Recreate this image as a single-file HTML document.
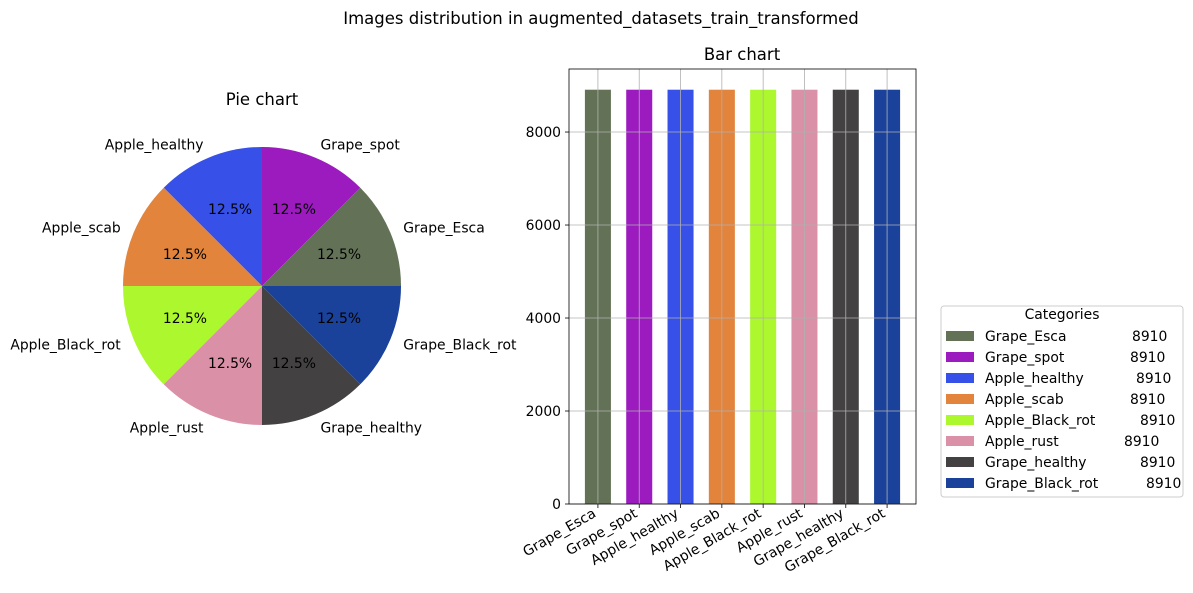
<!DOCTYPE html>
<html><head><meta charset="utf-8"><style>
html,body{margin:0;padding:0;background:#fff;}
svg{display:block;font-family:"DejaVu Sans","Liberation Sans",sans-serif;}
</style></head><body>
<svg id="chart" width="1193" height="593" viewBox="0 0 1193 593" xmlns="http://www.w3.org/2000/svg">
<text x="601" y="24" text-anchor="middle" font-size="16.5">Images distribution in augmented_datasets_train_transformed</text>
<text x="262" y="105" text-anchor="middle" font-size="16.5">Pie chart</text>
<text x="742" y="60" text-anchor="middle" font-size="16.5">Bar chart</text>
<g id="pie"></g>
<g id="bars"></g>
<g id="legend"></g>
</svg>
<script>
const categories = ["Grape_Esca","Grape_spot","Apple_healthy","Apple_scab","Apple_Black_rot","Apple_rust","Grape_healthy","Grape_Black_rot"];
const counts = [8910,8910,8910,8910,8910,8910,8910,8910];
const colors = ["#637257","#9b1bbf","#3650e8","#e2843c","#adf72f","#da90a6","#434141","#1a429a"];
const yTicks = [0,2000,4000,6000,8000];

const NS="http://www.w3.org/2000/svg";
function mk(tag,attrs,parent,text){const e=document.createElementNS(NS,tag);for(const k in attrs)e.setAttribute(k,attrs[k]);if(text!==undefined)e.textContent=text;parent.appendChild(e);return e;}
const FS=13.9;

// Pie
const pie=document.getElementById('pie');
const cx=262, cy=286, R=139;
const total=counts.reduce((a,b)=>a+b,0);
let ang=0;
counts.forEach((v,i)=>{
  const a0=ang, a1=ang+v/total*2*Math.PI; ang=a1;
  const x0=cx+R*Math.cos(a0), y0=cy-R*Math.sin(a0), x1=cx+R*Math.cos(a1), y1=cy-R*Math.sin(a1);
  const large=(a1-a0)>Math.PI?1:0;
  const p=mk('path',{d:`M${cx},${cy} L${x0},${y0} A${R},${R} 0 ${large} 0 ${x1},${y1} Z`,fill:colors[i]},pie);
  
  
  const am=(a0+a1)/2;
  const pt=mk('text',{x:cx+0.6*R*Math.cos(am),y:cy-0.6*R*Math.sin(am)+5,'text-anchor':'middle','font-size':FS},pie,(v/total*100).toFixed(1)+'%');
  
  
  const lx=cx+1.1*R*Math.cos(am), ly=cy-1.1*R*Math.sin(am);
  const lt=mk('text',{x:lx,y:ly+5,'text-anchor':Math.cos(am)>=0?'start':'end','font-size':FS},pie,categories[i]);
  
  
});

// Bars
const bars=document.getElementById('bars');
const L=569,Rr=916,T=69,B=504;
const ymax=Math.max(...counts)*1.05;
const xmin=-0.7,xmax=categories.length-1+0.7;
const X=i=>L+(i-xmin)/(xmax-xmin)*(Rr-L);
const Y=v=>B-v/ymax*(B-T);
const bw=(X(0.63)-X(0));
counts.forEach((v,i)=>{
  const r=mk('rect',{x:X(i)-bw/2,y:Y(v),width:bw,height:B-Y(v),fill:colors[i]},bars);
  
  
});
categories.forEach((c,i)=>{
  mk('line',{x1:X(i),x2:X(i),y1:T,y2:B,stroke:'#b0b0b0','stroke-width':0.8},bars);
  mk('line',{x1:X(i),x2:X(i),y1:B,y2:B+4,stroke:'#000','stroke-width':0.8},bars);
  const t=mk('text',{x:0,y:0,'text-anchor':'end','font-size':FS,transform:`translate(${X(i)-1},${B+12}) rotate(-30)`},bars,c);
  
  
});
yTicks.forEach(v=>{
  mk('line',{x1:L,x2:Rr,y1:Y(v),y2:Y(v),stroke:'#b0b0b0','stroke-width':0.8},bars);
  mk('line',{x1:L-4,x2:L,y1:Y(v),y2:Y(v),stroke:'#000','stroke-width':0.8},bars);
  const t=mk('text',{x:L-8,y:Y(v)+5,'text-anchor':'end','font-size':FS},bars,String(v));
  
  
});
mk('rect',{x:L,y:T,width:Rr-L,height:B-T,fill:'none',stroke:'#000','stroke-width':0.8},bars);

// Legend
const lg=document.getElementById('legend');
mk('rect',{x:941,y:306,width:242,height:191,rx:3,fill:'#fff',stroke:'#ccc','stroke-width':1},lg);
mk('text',{x:1062,y:319,'text-anchor':'middle','font-size':FS},lg,'Categories');
categories.forEach((c,i)=>{
  const y=336+i*21;
  const g=mk('g',{},lg);
  
  
  mk('rect',{x:946,y:y-5,width:28,height:10,fill:colors[i]},g);
  mk('text',{x:985,y:y+5,'font-size':FS},g,c);
  mk('text',{x:985+({"Grape_Esca":147,"Grape_spot":145,"Apple_healthy":151,"Apple_scab":145,"Apple_Black_rot":155,"Apple_rust":139,"Grape_healthy":155,"Grape_Black_rot":161})[c],y:y+5,'font-size':FS},g,String(counts[i]));
});
</script>
</body></html>
